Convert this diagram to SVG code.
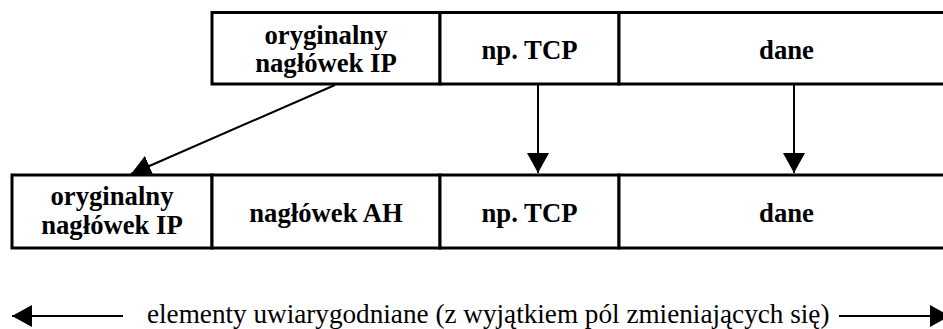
<svg xmlns="http://www.w3.org/2000/svg" width="943" height="329" viewBox="0 0 943 329">
<style>
.cell{fill:#fff;stroke:#000;stroke-width:3}
.lbl{font-family:"Liberation Serif","Times New Roman",serif;font-weight:bold;font-size:26.7px;text-anchor:middle;fill:#000}
.note{font-family:"Liberation Serif","Times New Roman",serif;font-size:27.2px;fill:#000}
.conn{stroke:#000;stroke-width:2;fill:none;marker-end:url(#ah)}
</style>
<defs>
<marker id="ah" markerUnits="userSpaceOnUse" markerWidth="20" markerHeight="22" refX="20" refY="11" orient="auto">
<path d="M0,0 L20,11 L0,22 z" fill="#000"/>
</marker>
</defs>
<rect width="943" height="329" fill="#fff"/>
<g id="top-ip"><rect class="cell" x="212" y="12.5" width="228" height="71.5"/><text class="lbl" x="326" y="44">oryginalny</text><text class="lbl" x="326" y="72">nagłówek IP</text></g>
<g id="top-tcp"><rect class="cell" x="440" y="12.5" width="179" height="71.5"/><text class="lbl" x="529.5" y="59">np. TCP</text></g>
<g id="top-dane"><rect class="cell" x="619" y="12.5" width="335" height="71.5"/><text class="lbl" x="786.5" y="59">dane</text></g>
<g id="bot-ip"><rect class="cell" x="12" y="175" width="200" height="73"/><text class="lbl" x="112" y="205">oryginalny</text><text class="lbl" x="112" y="234">nagłówek IP</text></g>
<g id="bot-ah"><rect class="cell" x="212" y="175" width="228" height="73"/><text class="lbl" x="326" y="222">nagłówek AH</text></g>
<g id="bot-tcp"><rect class="cell" x="440" y="175" width="179" height="73"/><text class="lbl" x="529.5" y="222">np. TCP</text></g>
<g id="bot-dane"><rect class="cell" x="619" y="175" width="335" height="73"/><text class="lbl" x="786.5" y="222">dane</text></g>
<g id="connectors">
<line class="conn" x1="335" y1="85" x2="131" y2="174"/>
<line class="conn" x1="538" y1="85" x2="538" y2="173"/>
<line class="conn" x1="794" y1="85" x2="794" y2="173"/>
<line class="conn" x1="123" y1="316" x2="12" y2="316"/>
<line class="conn" x1="839" y1="316" x2="950" y2="316"/>
</g>
<g id="note"><text class="note" x="147" y="323">elementy uwiarygodniane (z wyjątkiem pól zmieniających się)</text></g>
</svg>
